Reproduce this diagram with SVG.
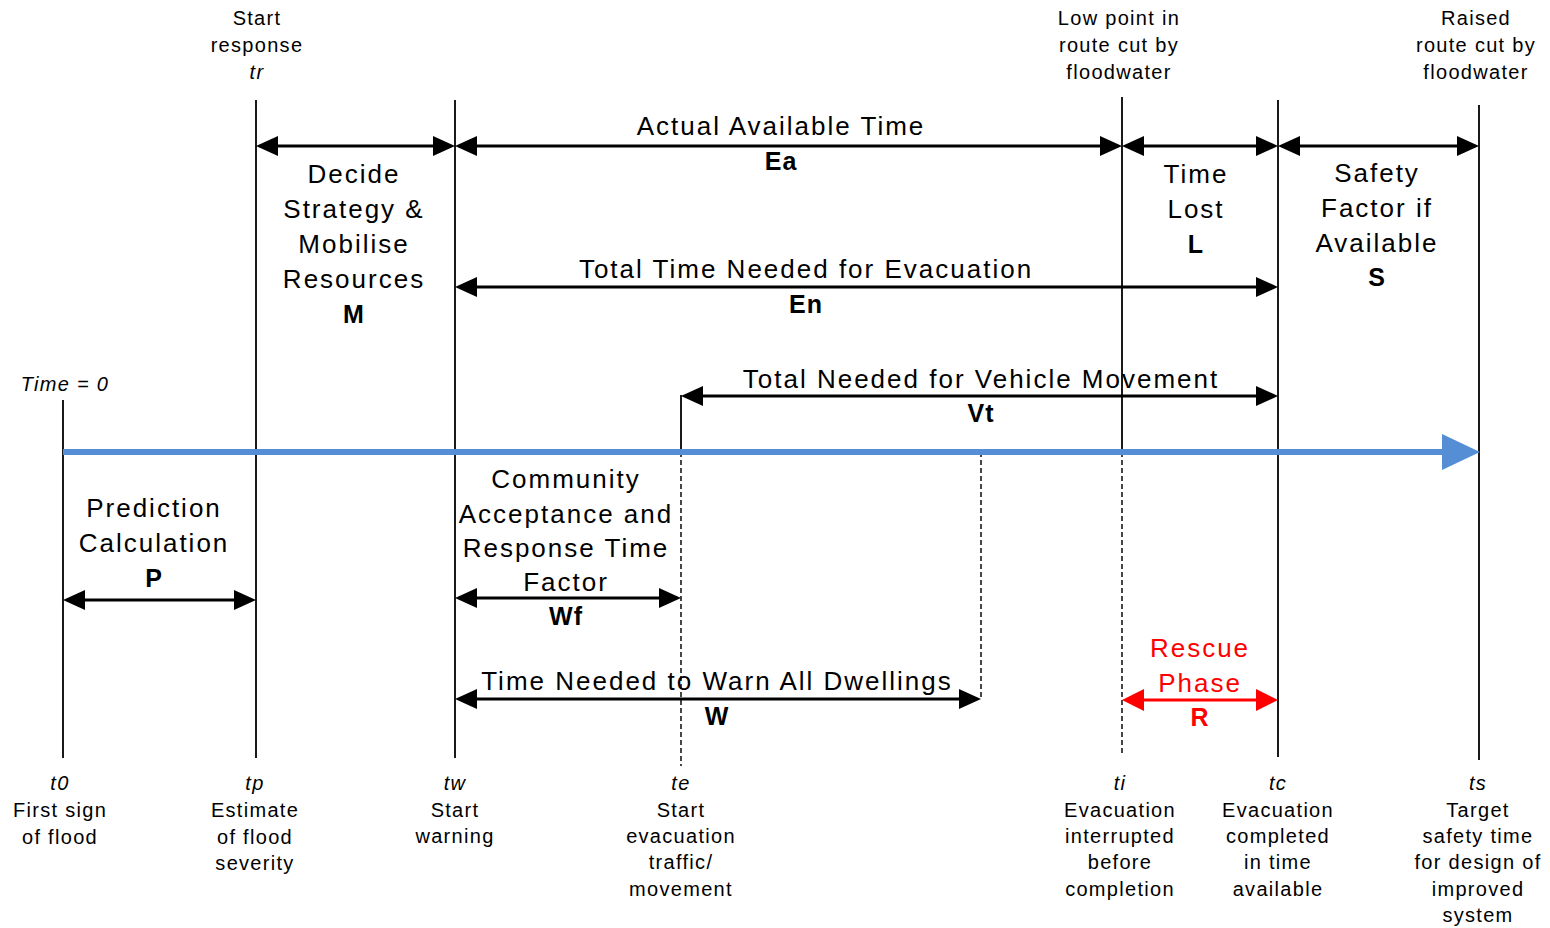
<svg xmlns="http://www.w3.org/2000/svg" width="1550" height="928" viewBox="0 0 1550 928">
<defs>
<style>
text{font-family:"Liberation Sans",Arial,sans-serif;fill:#000;text-anchor:middle}
.s{font-size:20px;letter-spacing:1.3px}
.i{font-style:italic}
.m{font-size:26px;letter-spacing:2px}
.b{font-size:25px;font-weight:bold;letter-spacing:1px}
.red{fill:#FF0000}
.v{stroke:#1a1a1a;stroke-width:2;fill:none}
.d{stroke:#1a1a1a;stroke-width:1.6;stroke-dasharray:5 3;fill:none}
.a{stroke:#000;stroke-width:3;fill:none;marker-start:url(#ah);marker-end:url(#ah)}
.ar{stroke:#FF0000;stroke-width:3;fill:none;marker-start:url(#ahr);marker-end:url(#ahr)}
</style>
<marker id="ah" viewBox="0 0 22 20" refX="14" refY="10" markerWidth="22" markerHeight="20" markerUnits="userSpaceOnUse" orient="auto-start-reverse"><path d="M0,0 L22,10 L0,20 z" fill="#000"/></marker>
<marker id="ahr" viewBox="0 0 22 22" refX="14" refY="11" markerWidth="22" markerHeight="22" markerUnits="userSpaceOnUse" orient="auto-start-reverse"><path d="M0,0 L22,11 L0,22 z" fill="#FF0000"/></marker>
</defs>
<rect width="1550" height="928" fill="#fff"/>
<g id="connectors">
<line class="v" x1="63" y1="400" x2="63" y2="758"/>
<line class="v" x1="256" y1="100" x2="256" y2="758"/>
<line class="v" x1="455" y1="100" x2="455" y2="758"/>
<line class="v" x1="681" y1="395" x2="681" y2="452"/>
<line class="d" x1="681" y1="452" x2="681" y2="766"/>
<line class="d" x1="981" y1="452" x2="981" y2="700"/>
<line class="v" x1="1122" y1="97" x2="1122" y2="452"/>
<line class="d" x1="1122" y1="452" x2="1122" y2="756"/>
<line class="v" x1="1278" y1="100" x2="1278" y2="757"/>
<line class="v" x1="1479" y1="105" x2="1479" y2="760"/>
<line x1="63" y1="452" x2="1446" y2="452" stroke="#558ED5" stroke-width="6"/>
<polygon points="1442,434 1480,452 1442,470" fill="#558ED5"/>
<line class="a" x1="264" y1="146" x2="447" y2="146"/>
<line class="a" x1="463" y1="146" x2="1114" y2="146"/>
<line class="a" x1="1130" y1="146" x2="1270" y2="146"/>
<line class="a" x1="1286" y1="146" x2="1471" y2="146"/>
<line class="a" x1="463" y1="287" x2="1270" y2="287"/>
<line class="a" x1="689" y1="396" x2="1270" y2="396"/>
<line class="a" x1="71" y1="600" x2="248" y2="600"/>
<line class="a" x1="463" y1="598" x2="673" y2="598"/>
<line class="a" x1="463" y1="699" x2="973" y2="699"/>
<line class="ar" x1="1130" y1="700" x2="1270" y2="700"/>
</g>
<g id="top-tr"><text class="s" x="257" y="25">Start</text><text class="s" x="257" y="52">response</text><text class="s i" x="257" y="79">tr</text></g>
<g id="top-ti"><text class="s" x="1119" y="25">Low point in</text><text class="s" x="1119" y="52">route cut by</text><text class="s" x="1119" y="79">floodwater</text></g>
<g id="top-ts"><text class="s" x="1476" y="25">Raised</text><text class="s" x="1476" y="52">route cut by</text><text class="s" x="1476" y="79">floodwater</text></g>
<g id="time0"><text class="s i" x="65" y="391">Time = 0</text></g>
<g id="node-M"><text class="m" x="354" y="183">Decide</text><text class="m" x="354" y="218">Strategy &amp;</text><text class="m" x="354" y="253">Mobilise</text><text class="m" x="354" y="288">Resources</text><text class="b" x="354" y="323">M</text></g>
<g id="node-Ea"><text class="m" x="781" y="135">Actual Available Time</text><text class="b" x="781" y="170">Ea</text></g>
<g id="node-L"><text class="m" x="1196" y="183">Time</text><text class="m" x="1196" y="218">Lost</text><text class="b" x="1196" y="253">L</text></g>
<g id="node-S"><text class="m" x="1377" y="182">Safety</text><text class="m" x="1377" y="217">Factor if</text><text class="m" x="1377" y="252">Available</text><text class="b" x="1377" y="286">S</text></g>
<g id="node-En"><text class="m" x="806" y="278">Total Time Needed for Evacuation</text><text class="b" x="806" y="313">En</text></g>
<g id="node-Vt"><text class="m" x="981" y="388">Total Needed for Vehicle Movement</text><text class="b" x="981" y="422">Vt</text></g>
<g id="node-P"><text class="m" x="154" y="517">Prediction</text><text class="m" x="154" y="552">Calculation</text><text class="b" x="154" y="587">P</text></g>
<g id="node-Wf"><text class="m" x="566" y="488">Community</text><text class="m" x="566" y="523">Acceptance and</text><text class="m" x="566" y="557">Response Time</text><text class="m" x="566" y="591">Factor</text><text class="b" x="566" y="625">Wf</text></g>
<g id="node-W"><text class="m" x="717" y="690">Time Needed to Warn All Dwellings</text><text class="b" x="717" y="725">W</text></g>
<g id="node-R"><text class="m red" x="1200" y="657">Rescue</text><text class="m red" x="1200" y="692">Phase</text><text class="b red" x="1200" y="726">R</text></g>
<g id="bot-t0"><text class="s i" x="60" y="790">t0</text><text class="s" x="60" y="817">First sign</text><text class="s" x="60" y="844">of flood</text></g>
<g id="bot-tp"><text class="s i" x="255" y="790">tp</text><text class="s" x="255" y="817">Estimate</text><text class="s" x="255" y="844">of flood</text><text class="s" x="255" y="870">severity</text></g>
<g id="bot-tw"><text class="s i" x="455" y="790">tw</text><text class="s" x="455" y="817">Start</text><text class="s" x="455" y="843">warning</text></g>
<g id="bot-te"><text class="s i" x="681" y="790">te</text><text class="s" x="681" y="817">Start</text><text class="s" x="681" y="843">evacuation</text><text class="s" x="681" y="869">traffic/</text><text class="s" x="681" y="896">movement</text></g>
<g id="bot-ti"><text class="s i" x="1120" y="790">ti</text><text class="s" x="1120" y="817">Evacuation</text><text class="s" x="1120" y="843">interrupted</text><text class="s" x="1120" y="869">before</text><text class="s" x="1120" y="896">completion</text></g>
<g id="bot-tc"><text class="s i" x="1278" y="790">tc</text><text class="s" x="1278" y="817">Evacuation</text><text class="s" x="1278" y="843">completed</text><text class="s" x="1278" y="869">in time</text><text class="s" x="1278" y="896">available</text></g>
<g id="bot-ts"><text class="s i" x="1478" y="790">ts</text><text class="s" x="1478" y="817">Target</text><text class="s" x="1478" y="843">safety time</text><text class="s" x="1478" y="869">for design of</text><text class="s" x="1478" y="896">improved</text><text class="s" x="1478" y="922">system</text></g>
</svg>
